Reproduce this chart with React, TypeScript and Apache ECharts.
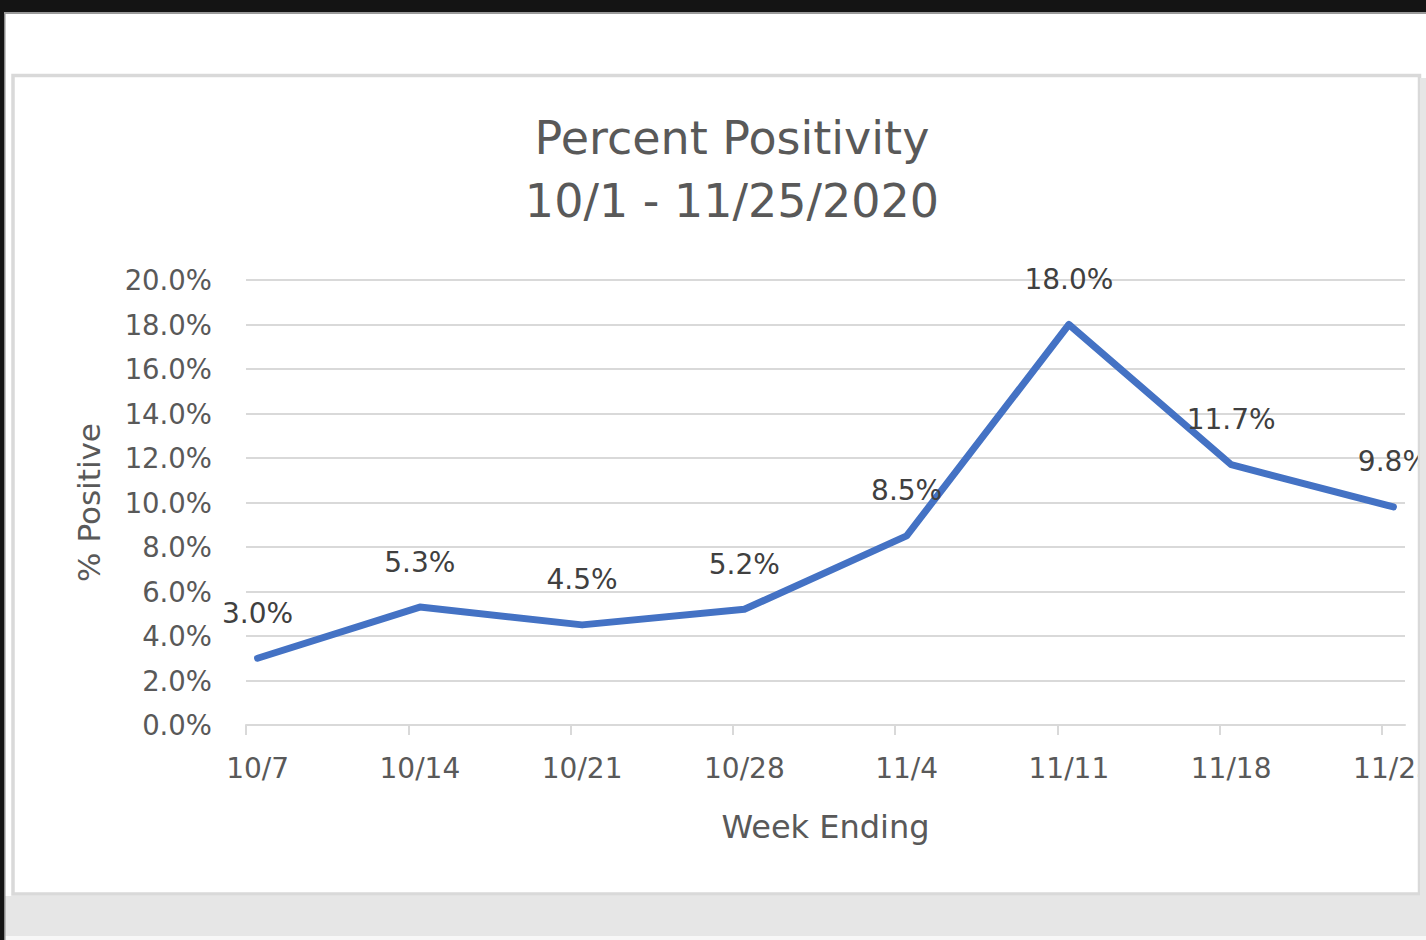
import React, { useEffect, useRef } from "react";
import * as echarts from "echarts";

// ---- Data ----
const weeks = ["10/7", "10/14", "10/21", "10/28", "11/4", "11/11", "11/18", "11/25"];
const positivity = [3.0, 5.3, 4.5, 5.2, 8.5, 18.0, 11.7, 9.8];
const titleLines = ["Percent Positivity", "10/1 - 11/25/2020"];
const xAxisTitle = "Week Ending";
const yAxisTitle = "% Positive";
const yMin = 0;
const yMax = 20;
const yStep = 2;
const DAYS = 7;

const FONT = "'DejaVu Sans', 'Open Sans', sans-serif";
const GREY_TEXT = "#595959";
const DARK_TEXT = "#404040";
const GRID = "#d9d9d9";
const BLUE = "#4472C4";

export default function App() {
  const ref = useRef<HTMLDivElement>(null);

  useEffect(() => {
    document.body.style.margin = "0";
    const chart = echarts.init(ref.current!, null, { renderer: "svg" });

    const xPos = weeks.map((_, i) => i * DAYS + 0.5);
    const tickPos = weeks.map((_, i) => i * DAYS);
    const xMax = (weeks.length - 1) * DAYS + 1;

    const option: any = {
      animation: false,
      backgroundColor: "#ffffff",
      grid: {
        left: 246,
        right: 21,
        top: 280,
        bottom: 215,
        containLabel: false,
        outerBoundsMode: "none",
      },
      xAxis: {
        type: "value",
        min: 0,
        max: xMax,
        splitLine: { show: false },
        axisLine: { show: true, lineStyle: { color: GRID, width: 2 } },
        axisTick: {
          show: true,
          customValues: tickPos,
          length: 10,
          lineStyle: { color: GRID, width: 2 },
        },
        axisLabel: {
          customValues: xPos,
          formatter: (v: number) => weeks[Math.round((v - 0.5) / DAYS)] ?? "",
          color: GREY_TEXT,
          fontFamily: FONT,
          fontSize: 28,
          lineHeight: 28,
          margin: 29,
        },
        name: xAxisTitle,
        nameLocation: "middle",
        nameGap: 86,
        nameTextStyle: { color: GREY_TEXT, fontFamily: FONT, fontSize: 32, lineHeight: 32 },
      },
      yAxis: {
        type: "value",
        min: yMin,
        max: yMax,
        interval: yStep,
        axisLine: { show: false },
        axisTick: { show: false },
        splitLine: { show: true, lineStyle: { color: GRID, width: 2 } },
        axisLabel: {
          formatter: (v: number) => v.toFixed(1) + "%",
          color: GREY_TEXT,
          fontFamily: FONT,
          fontSize: 27.5,
          margin: 34,
        },
        name: yAxisTitle,
        nameLocation: "middle",
        nameRotate: 90,
        nameGap: 142,
        nameTextStyle: { color: GREY_TEXT, fontFamily: FONT, fontSize: 31, lineHeight: 31 },
      },
      series: [
        {
          type: "line",
          data: positivity.map((v, i) => [xPos[i], v]),
          symbol: "circle",
          symbolSize: 2,
          itemStyle: { color: BLUE },
          lineStyle: { color: BLUE, width: 7, join: "round", cap: "round" },
          label: {
            show: true,
            position: "top",
            distance: 30,
            formatter: (p: any) => p.value[1].toFixed(1) + "%",
            color: DARK_TEXT,
            fontFamily: FONT,
            fontSize: 28,
            lineHeight: 28,
          },
          z: 3,
        },
      ],
      graphic: [
        { type: "rect", z: 100, shape: { x: 0, y: 0, width: 1426, height: 12 }, style: { fill: "#141414" } },
        { type: "rect", z: 100, shape: { x: 0, y: 12, width: 1426, height: 2 }, style: { fill: "#9a9a9a" } },
        {
          type: "rect",
          z: 90,
          shape: { x: 13, y: 75.5, width: 1406.5, height: 818.5 },
          style: { fill: "none", stroke: GRID, lineWidth: 3.5 },
        },
        { type: "rect", z: 95, shape: { x: 1420, y: 78, width: 6, height: 860 }, style: { fill: "#e6e6e6" } },
        { type: "rect", z: 95, shape: { x: 0, y: 896, width: 1426, height: 40 }, style: { fill: "#e6e6e6" } },
        { type: "rect", z: 95, shape: { x: 0, y: 936, width: 1426, height: 4 }, style: { fill: "#f7f7f7" } },
        { type: "rect", z: 100, shape: { x: 0, y: 0, width: 4, height: 940 }, style: { fill: "#141414" } },
        { type: "rect", z: 100, shape: { x: 4, y: 14, width: 1.5, height: 926 }, style: { fill: "#8a8a8a" } },
        {
          type: "text",
          z: 100,
          x: 732,
          y: 138,
          style: {
            text: titleLines[0],
            textAlign: "center",
            textVerticalAlign: "middle",
            fill: GREY_TEXT,
            font: `46px ${FONT}`,
          },
        },
        {
          type: "text",
          z: 100,
          x: 732,
          y: 201,
          style: {
            text: titleLines[1],
            textAlign: "center",
            textVerticalAlign: "middle",
            fill: GREY_TEXT,
            font: `46px ${FONT}`,
          },
        },
      ],
    };

    chart.setOption(option);
    return () => chart.dispose();
  }, []);

  return <div ref={ref} style={{ width: 1426, height: 940 }} />;
}
